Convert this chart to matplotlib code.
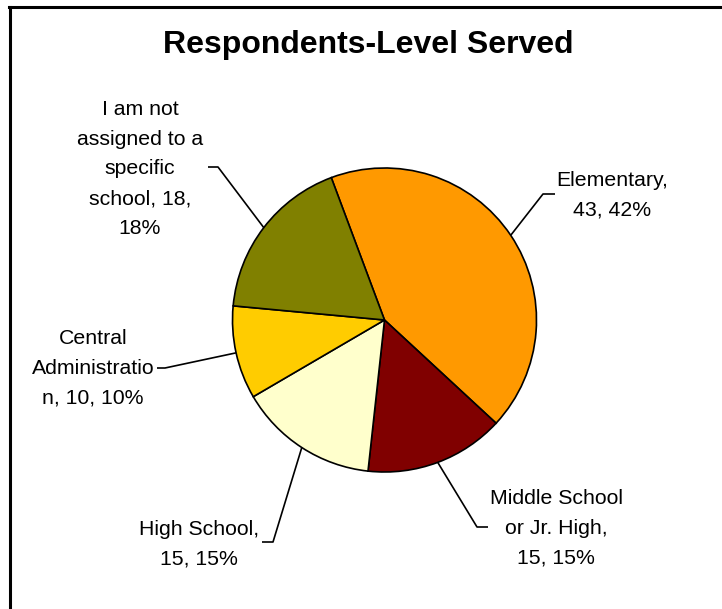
import numpy as np
import matplotlib.pyplot as plt
from matplotlib.lines import Line2D

plt.rcParams['font.family'] = ['Liberation Sans', 'DejaVu Sans']

labels = ["Elementary", "Middle School or Jr. High", "High School",
          "Central Administration", "I am not assigned to a specific school"]
counts = [43, 15, 15, 10, 18]
pcts = [42, 15, 15, 10, 18]
colors = ["#FF9900", "#800000", "#FFFFCC", "#FFCC00", "#808000"]

# wrapped label text, as the chart breaks it
label_text = [
    "Elementary,\n{}, {}%",
    "Middle School\nor Jr. High,\n{}, {}%",
    "High School,\n{}, {}%",
    "Central\nAdministratio\nn, {}, {}%",
    "I am not\nassigned to a\nspecific\nschool, {},\n{}%",
]

W, H = 722, 609
# label centre, elbow and end of leader (pixel coords, y down)
label_pos = [(612, 195), (556, 528), (199, 544), (93, 368), (140, 169)]
elbows = [((543, 194), (555, 194)), ((477, 527), (488, 527)),
          ((273, 542), (262, 542)), ((165, 368), (157, 368)),
          ((218, 167), (208, 167))]

fig = plt.figure(figsize=(W / 100, H / 100), dpi=100)
ax = fig.add_axes([0, 0, 1, 1])

cx, cy, r = 384.5, H - 320, 152
wedges, _ = ax.pie(counts, colors=colors, startangle=110.5, counterclock=False,
                   center=(cx, cy), radius=r, frame=True,
                   wedgeprops=dict(edgecolor="black", linewidth=1.2))
ax.set_xlim(0, W)
ax.set_ylim(0, H)
ax.axis("off")

for w, txt, n, p, (lx, ly), (el, end) in zip(wedges, label_text, counts, pcts,
                                              label_pos, elbows):
    mid = np.deg2rad((w.theta1 + w.theta2) / 2)
    ex, ey = cx + r * np.cos(mid), cy + r * np.sin(mid)
    ax.plot([ex, el[0], end[0]], [ey, H - el[1], H - end[1]],
            color="black", lw=1.2, solid_capstyle="butt")
    ax.text(lx, H - ly, txt.format(n, p), ha="center", va="center",
            multialignment="center", fontsize=15.3, linespacing=1.72)

ax.text(368, H - 53, "Respondents-Level Served", ha="center", va="baseline",
        fontsize=23, fontweight="bold")

# chart border (only top and left edges fall inside the image)
fig.add_artist(Line2D([9.5 / W, 9.5 / W], [0, 1 - 7 / H],
                      transform=fig.transFigure, color="black", lw=2.2))
fig.add_artist(Line2D([8.5 / W, 1], [1 - 7 / H, 1 - 7 / H],
                      transform=fig.transFigure, color="black", lw=2.2))

fig.savefig("out.png", dpi=100)
